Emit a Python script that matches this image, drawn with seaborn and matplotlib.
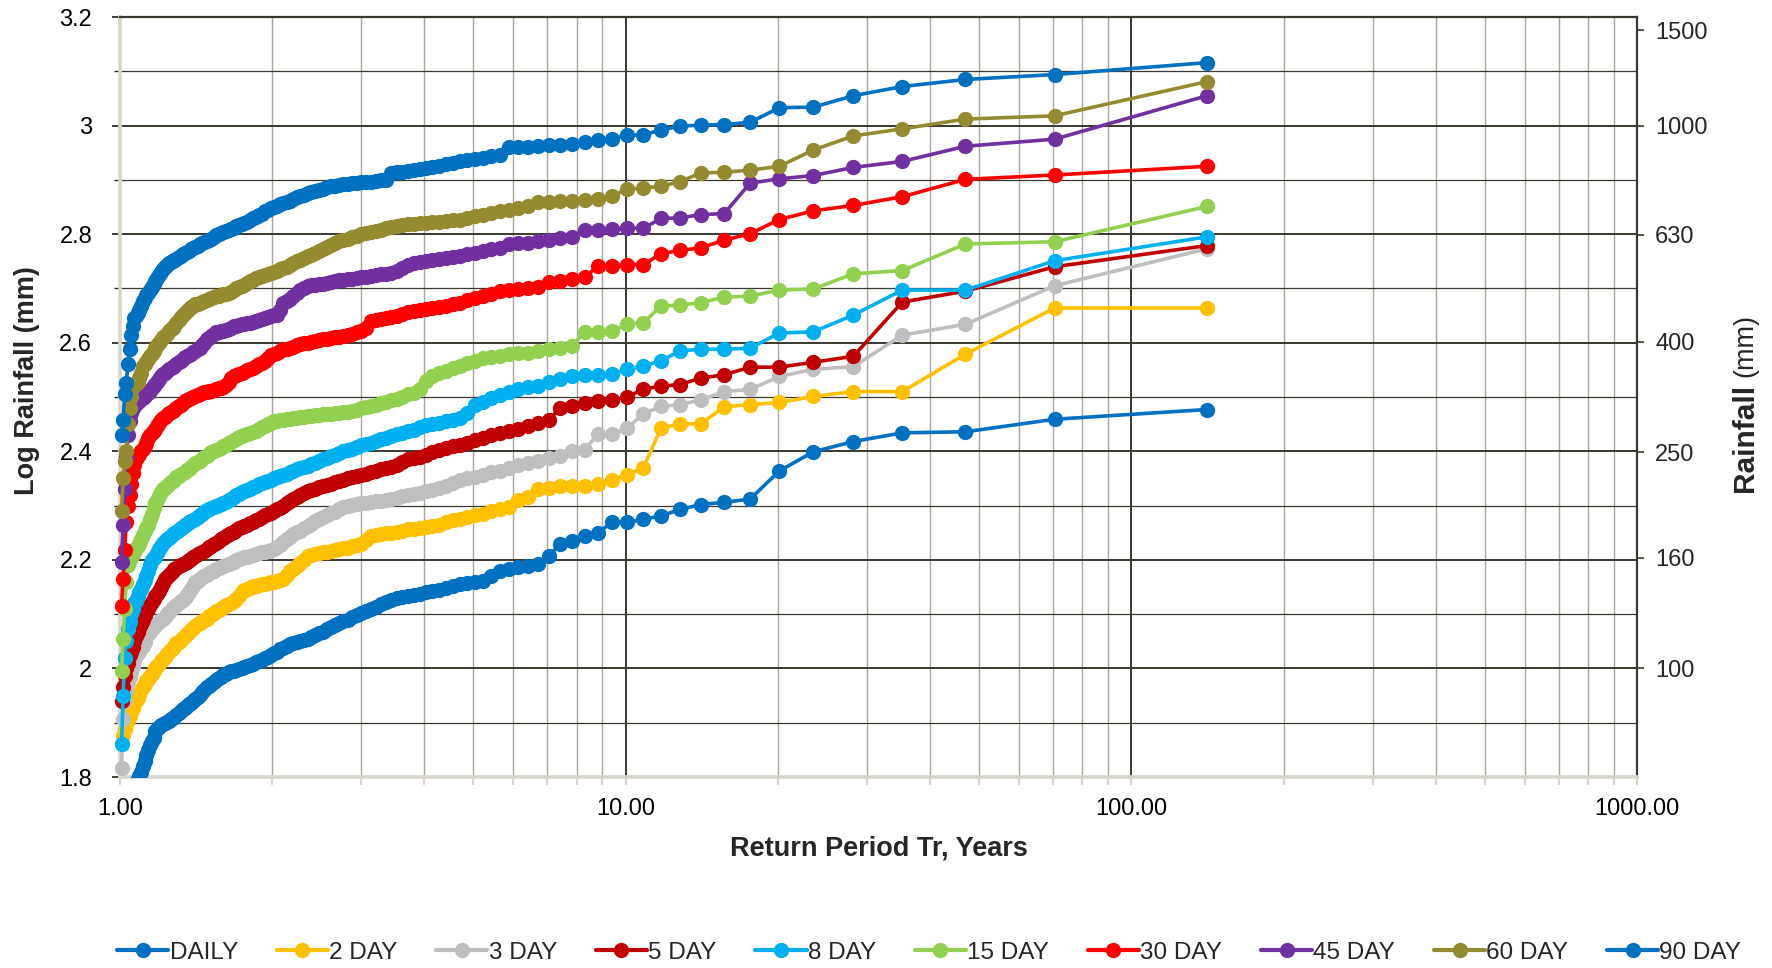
import numpy as np
import pandas as pd
import matplotlib
matplotlib.use("Agg")
import matplotlib.pyplot as plt
import seaborn as sns
from matplotlib.ticker import FixedLocator, NullFormatter
from matplotlib.lines import Line2D

# ---------------- data (log10 rainfall, sorted by rank m = 1..140) ----------------
series_names = ["DAILY", "2 DAY", "3 DAY", "5 DAY", "8 DAY",
                "15 DAY", "30 DAY", "45 DAY", "60 DAY", "90 DAY"]
series_colors = ["#0070C0", "#FFC000", "#BFBFBF", "#C00000", "#00B0F0",
                 "#92D050", "#FF0000", "#7030A0", "#948B31", "#0070C0"]

daily = [2.477, 2.459, 2.436, 2.434, 2.418, 2.399, 2.364, 2.312, 2.306, 2.302,
         2.293, 2.281, 2.275, 2.269, 2.269, 2.250, 2.244, 2.235, 2.229, 2.207,
         2.192, 2.189, 2.187, 2.184, 2.180, 2.170, 2.161, 2.159, 2.157, 2.155,
         2.152, 2.149, 2.145, 2.143, 2.140, 2.138, 2.136, 2.134, 2.132, 2.130,
         2.126, 2.122, 2.118, 2.113, 2.109, 2.106, 2.102, 2.098, 2.094, 2.090,
         2.087, 2.083, 2.080, 2.076, 2.072, 2.068, 2.065, 2.062, 2.058, 2.055,
         2.053, 2.050, 2.048, 2.047, 2.045, 2.042, 2.038, 2.035, 2.031, 2.028,
         2.025, 2.022, 2.019, 2.016, 2.013, 2.011, 2.009, 2.007, 2.005, 2.003,
         2.001, 1.999, 1.997, 1.996, 1.995, 1.993, 1.990, 1.988, 1.985, 1.982,
         1.978, 1.975, 1.972, 1.968, 1.965, 1.961, 1.957, 1.952, 1.948, 1.943,
         1.940, 1.937, 1.934, 1.931, 1.928, 1.925, 1.921, 1.918, 1.914, 1.910,
         1.908, 1.906, 1.904, 1.902, 1.900, 1.898, 1.895, 1.892, 1.889, 1.885,
         1.872, 1.866, 1.859, 1.850, 1.840, 1.830, 1.820, 1.810, 1.802, 1.795,
         1.790, 1.785, 1.775, 1.765, 1.755, 1.740, 1.720, 1.690, 1.660, 1.620]

day2 = [2.664, 2.664, 2.579, 2.510, 2.510, 2.501, 2.490, 2.486, 2.482, 2.451,
        2.450, 2.443, 2.370, 2.357, 2.348, 2.339, 2.337, 2.336, 2.336, 2.333,
        2.330, 2.315, 2.311, 2.298, 2.293, 2.290, 2.285, 2.282, 2.279, 2.276,
        2.273, 2.269, 2.265, 2.263, 2.260, 2.258, 2.257, 2.256, 2.254, 2.252,
        2.250, 2.249, 2.247, 2.246, 2.244, 2.236, 2.230, 2.227, 2.225, 2.222,
        2.221, 2.220, 2.219, 2.217, 2.215, 2.214, 2.213, 2.211, 2.209, 2.207,
        2.200, 2.195, 2.189, 2.184, 2.180, 2.172, 2.165, 2.163, 2.161, 2.160,
        2.159, 2.158, 2.156, 2.155, 2.153, 2.152, 2.151, 2.149, 2.147, 2.145,
        2.140, 2.133, 2.128, 2.124, 2.120, 2.118, 2.116, 2.113, 2.110, 2.108,
        2.105, 2.102, 2.099, 2.096, 2.092, 2.089, 2.087, 2.084, 2.081, 2.078,
        2.075, 2.071, 2.067, 2.064, 2.060, 2.057, 2.053, 2.049, 2.046, 2.042,
        2.038, 2.034, 2.030, 2.026, 2.022, 2.018, 2.014, 2.009, 2.004, 2.000,
        1.995, 1.990, 1.986, 1.981, 1.976, 1.971, 1.966, 1.960, 1.953, 1.946,
        1.940, 1.934, 1.928, 1.920, 1.912, 1.905, 1.897, 1.888, 1.878, 1.862]

day3 = [2.773, 2.705, 2.634, 2.614, 2.556, 2.551, 2.538, 2.514, 2.510, 2.495,
        2.486, 2.483, 2.469, 2.443, 2.431, 2.431, 2.403, 2.400, 2.391, 2.388,
        2.382, 2.379, 2.375, 2.370, 2.364, 2.361, 2.356, 2.353, 2.350, 2.348,
        2.342, 2.337, 2.332, 2.329, 2.326, 2.323, 2.321, 2.320, 2.317, 2.314,
        2.312, 2.311, 2.309, 2.308, 2.306, 2.305, 2.304, 2.303, 2.302, 2.300,
        2.297, 2.293, 2.289, 2.286, 2.283, 2.279, 2.275, 2.271, 2.266, 2.262,
        2.258, 2.254, 2.251, 2.247, 2.243, 2.238, 2.233, 2.228, 2.224, 2.220,
        2.218, 2.217, 2.215, 2.214, 2.212, 2.211, 2.209, 2.208, 2.206, 2.205,
        2.203, 2.201, 2.199, 2.197, 2.195, 2.193, 2.191, 2.189, 2.187, 2.185,
        2.183, 2.180, 2.178, 2.175, 2.172, 2.170, 2.168, 2.165, 2.162, 2.160,
        2.152, 2.146, 2.140, 2.135, 2.130, 2.127, 2.124, 2.120, 2.117, 2.114,
        2.111, 2.108, 2.104, 2.100, 2.095, 2.092, 2.089, 2.086, 2.083, 2.080,
        2.077, 2.073, 2.068, 2.063, 2.058, 2.048, 2.042, 2.037, 2.032, 2.028,
        2.024, 2.015, 2.005, 1.993, 1.985, 1.975, 1.960, 1.940, 1.907, 1.816]

day5 = [2.779, 2.740, 2.695, 2.675, 2.575, 2.564, 2.555, 2.555, 2.541, 2.535,
        2.523, 2.520, 2.515, 2.500, 2.494, 2.492, 2.489, 2.484, 2.480, 2.458,
        2.453, 2.446, 2.441, 2.437, 2.434, 2.430, 2.425, 2.421, 2.416, 2.412,
        2.409, 2.406, 2.403, 2.398, 2.394, 2.390, 2.387, 2.385, 2.380, 2.375,
        2.372, 2.369, 2.367, 2.364, 2.361, 2.358, 2.356, 2.354, 2.352, 2.350,
        2.348, 2.346, 2.343, 2.340, 2.338, 2.336, 2.334, 2.331, 2.329, 2.327,
        2.324, 2.320, 2.316, 2.312, 2.308, 2.305, 2.300, 2.296, 2.293, 2.290,
        2.287, 2.285, 2.282, 2.279, 2.276, 2.273, 2.270, 2.268, 2.265, 2.263,
        2.260, 2.258, 2.255, 2.252, 2.250, 2.247, 2.244, 2.241, 2.238, 2.235,
        2.232, 2.229, 2.226, 2.223, 2.220, 2.217, 2.214, 2.212, 2.210, 2.208,
        2.205, 2.202, 2.199, 2.196, 2.194, 2.192, 2.190, 2.188, 2.185, 2.183,
        2.180, 2.176, 2.172, 2.168, 2.165, 2.158, 2.150, 2.143, 2.137, 2.134,
        2.128, 2.122, 2.116, 2.110, 2.104, 2.098, 2.090, 2.082, 2.075, 2.068,
        2.060, 2.050, 2.040, 2.030, 2.024, 2.010, 2.000, 1.987, 1.965, 1.940]

day8 = [2.795, 2.751, 2.697, 2.697, 2.651, 2.620, 2.618, 2.590, 2.588, 2.588,
        2.585, 2.567, 2.557, 2.551, 2.542, 2.541, 2.541, 2.539, 2.533, 2.527,
        2.521, 2.518, 2.515, 2.510, 2.504, 2.499, 2.490, 2.485, 2.471, 2.461,
        2.458, 2.455, 2.452, 2.450, 2.448, 2.445, 2.440, 2.437, 2.434, 2.431,
        2.428, 2.425, 2.422, 2.419, 2.416, 2.413, 2.411, 2.408, 2.405, 2.403,
        2.400, 2.397, 2.394, 2.391, 2.388, 2.385, 2.382, 2.379, 2.376, 2.373,
        2.371, 2.369, 2.367, 2.364, 2.361, 2.359, 2.357, 2.355, 2.352, 2.350,
        2.348, 2.346, 2.344, 2.342, 2.340, 2.337, 2.334, 2.331, 2.329, 2.327,
        2.325, 2.322, 2.319, 2.316, 2.313, 2.310, 2.307, 2.305, 2.303, 2.301,
        2.300, 2.298, 2.296, 2.293, 2.291, 2.288, 2.285, 2.282, 2.279, 2.276,
        2.274, 2.272, 2.270, 2.267, 2.264, 2.261, 2.258, 2.255, 2.252, 2.250,
        2.247, 2.244, 2.241, 2.238, 2.235, 2.231, 2.226, 2.220, 2.213, 2.206,
        2.203, 2.200, 2.190, 2.180, 2.170, 2.163, 2.155, 2.147, 2.140, 2.133,
        2.125, 2.120, 2.110, 2.100, 2.085, 2.073, 2.050, 2.020, 1.950, 1.860]

day15 = [2.851, 2.786, 2.782, 2.733, 2.727, 2.699, 2.697, 2.686, 2.684, 2.674,
         2.669, 2.668, 2.637, 2.634, 2.622, 2.619, 2.619, 2.594, 2.591, 2.588,
         2.585, 2.582, 2.581, 2.580, 2.576, 2.574, 2.571, 2.567, 2.562, 2.557,
         2.553, 2.548, 2.545, 2.538, 2.530, 2.515, 2.508, 2.505, 2.500, 2.496,
         2.494, 2.491, 2.489, 2.486, 2.483, 2.481, 2.479, 2.477, 2.475, 2.473,
         2.472, 2.471, 2.470, 2.469, 2.469, 2.468, 2.467, 2.466, 2.465, 2.465,
         2.464, 2.463, 2.462, 2.461, 2.460, 2.459, 2.458, 2.457, 2.456, 2.455,
         2.452, 2.450, 2.447, 2.444, 2.441, 2.438, 2.436, 2.434, 2.432, 2.430,
         2.428, 2.426, 2.422, 2.420, 2.418, 2.415, 2.412, 2.409, 2.406, 2.404,
         2.403, 2.401, 2.398, 2.395, 2.392, 2.389, 2.386, 2.383, 2.380, 2.378,
         2.375, 2.372, 2.368, 2.365, 2.362, 2.360, 2.358, 2.355, 2.352, 2.348,
         2.346, 2.343, 2.340, 2.336, 2.332, 2.330, 2.325, 2.318, 2.311, 2.305,
         2.295, 2.285, 2.275, 2.265, 2.258, 2.253, 2.245, 2.238, 2.230, 2.225,
         2.221, 2.215, 2.210, 2.205, 2.200, 2.190, 2.160, 2.110, 2.055, 1.996]

day30 = [2.925, 2.909, 2.901, 2.869, 2.853, 2.843, 2.827, 2.801, 2.789, 2.775,
         2.770, 2.764, 2.744, 2.744, 2.741, 2.741, 2.721, 2.717, 2.713, 2.712,
         2.703, 2.701, 2.699, 2.697, 2.695, 2.690, 2.686, 2.683, 2.678, 2.674,
         2.671, 2.668, 2.666, 2.664, 2.662, 2.660, 2.658, 2.656, 2.653, 2.650,
         2.648, 2.645, 2.643, 2.641, 2.640, 2.628, 2.622, 2.619, 2.616, 2.614,
         2.612, 2.611, 2.610, 2.609, 2.607, 2.606, 2.605, 2.604, 2.602, 2.600,
         2.599, 2.597, 2.595, 2.593, 2.591, 2.589, 2.588, 2.585, 2.582, 2.580,
         2.577, 2.572, 2.567, 2.563, 2.560, 2.557, 2.554, 2.551, 2.549, 2.547,
         2.545, 2.543, 2.541, 2.539, 2.535, 2.528, 2.522, 2.519, 2.517, 2.516,
         2.514, 2.513, 2.512, 2.511, 2.510, 2.509, 2.508, 2.506, 2.504, 2.502,
         2.500, 2.498, 2.496, 2.494, 2.492, 2.489, 2.486, 2.483, 2.480, 2.477,
         2.474, 2.472, 2.470, 2.467, 2.464, 2.461, 2.457, 2.452, 2.447, 2.442,
         2.438, 2.434, 2.430, 2.425, 2.415, 2.410, 2.405, 2.400, 2.395, 2.391,
         2.385, 2.375, 2.360, 2.340, 2.320, 2.300, 2.270, 2.218, 2.165, 2.115]

day45 = [3.055, 2.975, 2.962, 2.934, 2.923, 2.908, 2.902, 2.894, 2.838, 2.836,
         2.830, 2.829, 2.811, 2.811, 2.810, 2.808, 2.808, 2.795, 2.793, 2.790,
         2.787, 2.784, 2.784, 2.781, 2.775, 2.772, 2.769, 2.766, 2.763, 2.760,
         2.758, 2.756, 2.754, 2.752, 2.750, 2.748, 2.746, 2.744, 2.738, 2.732,
         2.729, 2.727, 2.726, 2.725, 2.723, 2.722, 2.721, 2.720, 2.718, 2.717,
         2.716, 2.715, 2.714, 2.712, 2.710, 2.709, 2.708, 2.707, 2.706, 2.704,
         2.701, 2.698, 2.692, 2.687, 2.681, 2.677, 2.674, 2.660, 2.652, 2.651,
         2.649, 2.647, 2.645, 2.643, 2.642, 2.640, 2.639, 2.637, 2.636, 2.635,
         2.634, 2.633, 2.631, 2.630, 2.628, 2.626, 2.624, 2.622, 2.621, 2.620,
         2.619, 2.616, 2.612, 2.609, 2.606, 2.600, 2.595, 2.591, 2.588, 2.585,
         2.583, 2.580, 2.578, 2.575, 2.573, 2.570, 2.567, 2.564, 2.561, 2.558,
         2.556, 2.553, 2.551, 2.548, 2.545, 2.542, 2.538, 2.533, 2.528, 2.524,
         2.520, 2.516, 2.512, 2.508, 2.505, 2.502, 2.499, 2.496, 2.493, 2.490,
         2.487, 2.484, 2.480, 2.470, 2.455, 2.430, 2.390, 2.330, 2.265, 2.197]

day60 = [3.081, 3.018, 3.012, 2.994, 2.981, 2.955, 2.925, 2.918, 2.914, 2.913,
         2.897, 2.888, 2.885, 2.883, 2.870, 2.865, 2.863, 2.862, 2.861, 2.860,
         2.860, 2.851, 2.848, 2.845, 2.842, 2.839, 2.836, 2.833, 2.830, 2.827,
         2.826, 2.825, 2.823, 2.822, 2.821, 2.820, 2.819, 2.818, 2.817, 2.815,
         2.813, 2.811, 2.808, 2.806, 2.804, 2.802, 2.800, 2.797, 2.794, 2.791,
         2.790, 2.787, 2.784, 2.780, 2.776, 2.772, 2.769, 2.765, 2.762, 2.759,
         2.756, 2.753, 2.750, 2.746, 2.743, 2.740, 2.738, 2.735, 2.733, 2.731,
         2.729, 2.727, 2.725, 2.723, 2.721, 2.719, 2.716, 2.713, 2.710, 2.707,
         2.705, 2.703, 2.700, 2.697, 2.694, 2.692, 2.690, 2.689, 2.688, 2.687,
         2.686, 2.684, 2.682, 2.680, 2.679, 2.677, 2.675, 2.673, 2.672, 2.671,
         2.668, 2.665, 2.662, 2.658, 2.655, 2.652, 2.647, 2.642, 2.636, 2.631,
         2.628, 2.625, 2.621, 2.617, 2.613, 2.611, 2.605, 2.600, 2.595, 2.590,
         2.585, 2.580, 2.575, 2.570, 2.565, 2.561, 2.557, 2.545, 2.535, 2.527,
         2.524, 2.522, 2.520, 2.500, 2.480, 2.450, 2.400, 2.382, 2.350, 2.290]

day90 = [3.116, 3.094, 3.085, 3.072, 3.055, 3.034, 3.033, 3.006, 3.002, 3.001,
         2.999, 2.992, 2.983, 2.982, 2.976, 2.973, 2.970, 2.967, 2.965, 2.964,
         2.962, 2.961, 2.961, 2.960, 2.946, 2.944, 2.940, 2.938, 2.936, 2.934,
         2.931, 2.929, 2.926, 2.924, 2.921, 2.920, 2.918, 2.916, 2.915, 2.914,
         2.912, 2.900, 2.899, 2.898, 2.897, 2.896, 2.896, 2.895, 2.894, 2.893,
         2.892, 2.891, 2.889, 2.888, 2.886, 2.884, 2.882, 2.880, 2.878, 2.875,
         2.873, 2.870, 2.868, 2.865, 2.862, 2.860, 2.858, 2.855, 2.852, 2.850,
         2.848, 2.845, 2.842, 2.838, 2.835, 2.832, 2.829, 2.826, 2.823, 2.821,
         2.819, 2.817, 2.815, 2.812, 2.810, 2.808, 2.806, 2.804, 2.802, 2.800,
         2.798, 2.795, 2.792, 2.790, 2.788, 2.785, 2.783, 2.781, 2.779, 2.776,
         2.774, 2.772, 2.769, 2.767, 2.765, 2.763, 2.760, 2.758, 2.755, 2.752,
         2.750, 2.748, 2.746, 2.744, 2.740, 2.735, 2.730, 2.725, 2.720, 2.713,
         2.708, 2.703, 2.698, 2.692, 2.688, 2.682, 2.676, 2.667, 2.660, 2.655,
         2.650, 2.645, 2.630, 2.615, 2.588, 2.560, 2.525, 2.505, 2.458, 2.430]

series_values = [daily, day2, day3, day5, day8, day15, day30, day45, day60, day90]

# Weibull plotting position: Tr = (n + 1) / m, n = 140 years of record
record_length = 140
ranks = list(range(1, record_length + 1))
return_period = [(record_length + 1) / m for m in ranks]

left_ticks = [1.8, 2.0, 2.2, 2.4, 2.6, 2.8, 3.0, 3.2]
left_tick_labels = ["1.8", "2", "2.2", "2.4", "2.6", "2.8", "3", "3.2"]
right_tick_mm = [1500, 1000, 630, 400, 250, 160, 100]
x_tick_values = [1, 10, 100, 1000]
x_tick_labels = ["1.00", "10.00", "100.00", "1000.00"]

# ---------------- build long frame ----------------
frames = []
for name, vals in zip(series_names, series_values):
    frames.append(pd.DataFrame({"Tr": return_period, "LogRain": vals, "Series": name}))
df = pd.concat(frames, ignore_index=True)

# ---------------- figure ----------------
sns.set_theme(style="white")
plt.rcParams["font.family"] = ["Liberation Sans", "DejaVu Sans"]

fig = plt.figure(figsize=(17.72, 9.68), dpi=100)
ax = fig.add_axes([0.0677, 0.1973, 0.8561, 0.7851])

palette = dict(zip(series_names, series_colors))
for name in series_names:
    sub = df[df["Series"] == name]
    sns.lineplot(data=sub, x="Tr", y="LogRain", color=palette[name], ax=ax,
                 marker="o", markersize=11, markeredgewidth=0, linewidth=2.6,
                 estimator=None, sort=False, legend=False, zorder=3)

ax.set_xscale("log")
ax.set_xlim(1, 1000)
ax.set_ylim(1.8, 3.2)

for ln, name in zip(ax.lines, series_names):
    if name != "DAILY":
        ln.set_clip_on(False)

# grid
dark = "#3B3830"
ax.set_yticks(left_ticks)
ax.set_yticklabels(left_tick_labels)
ax.yaxis.set_minor_locator(FixedLocator([1.9, 2.1, 2.3, 2.5, 2.7, 2.9, 3.1]))
ax.set_xticks(x_tick_values)
ax.set_xticklabels(x_tick_labels)
minor_x = [k * 10 ** d for d in range(0, 3) for k in range(2, 10)]
ax.xaxis.set_minor_locator(FixedLocator(minor_x))
ax.xaxis.set_minor_formatter(NullFormatter())

ax.grid(True, which="major", axis="y", color=dark, linewidth=1.4, zorder=0)
ax.grid(True, which="minor", axis="y", color=dark, linewidth=0.9, zorder=0)
ax.grid(True, which="major", axis="x", color=dark, linewidth=1.4, zorder=0)
ax.grid(True, which="minor", axis="x", color="#A9A59B", linewidth=1.0, zorder=0)
ax.set_axisbelow(True)

ax.tick_params(axis="y", which="both", left=False, labelsize=17, pad=14, labelcolor="#000000")
ax.tick_params(axis="x", which="both", bottom=True, direction="out", length=6,
               color="#D9D5C8", width=1.5, labelsize=17, pad=9, labelcolor="#000000")

for side in ["left", "bottom"]:
    ax.spines[side].set_color("#D9D5C8")
    ax.spines[side].set_linewidth(2.6)
ax.spines["top"].set_color("#3B3830")
ax.spines["top"].set_linewidth(1.6)
ax.spines["right"].set_color("#3B3830")
ax.spines["right"].set_linewidth(1.6)

ax.set_xlabel("Return Period Tr, Years", fontsize=19.5, fontweight="bold", labelpad=11)
ax.set_ylabel("Log Rainfall (mm)", fontsize=19.5, fontweight="bold")
ax.yaxis.set_label_coords(-0.0525, 0.5215)

# right axis with rainfall in mm
ax2 = ax.twinx()
ax2.set_ylim(1.8, 3.2)
ax2.set_yticks([np.log10(v) for v in right_tick_mm])
ax2.set_yticklabels([str(v) for v in right_tick_mm])
ax2.tick_params(axis="y", direction="out", length=5, width=1.2, color="#3B3830",
                labelsize=17, pad=8)
for s in ax2.spines.values():
    s.set_visible(False)
ax2.grid(False)

fig.text(0.985, 0.603, "Rainfall", rotation=90, fontsize=21.5, fontweight="bold",
         ha="center", va="top")
fig.text(0.985, 0.611, "(mm)", rotation=90, fontsize=19.5, ha="center", va="bottom")

# legend
handles = [Line2D([0], [0], color=c, linewidth=3.0, marker="o", markersize=11,
                  markeredgewidth=0) for c in series_colors]
fig.legend(handles, series_names, loc="center", bbox_to_anchor=(0.5245, 0.016),
           ncol=10, frameon=False, fontsize=17.5, handlelength=2.1,
           handletextpad=0.05, columnspacing=1.6, labelcolor="#262626")

fig.savefig("out.png", dpi=100)
